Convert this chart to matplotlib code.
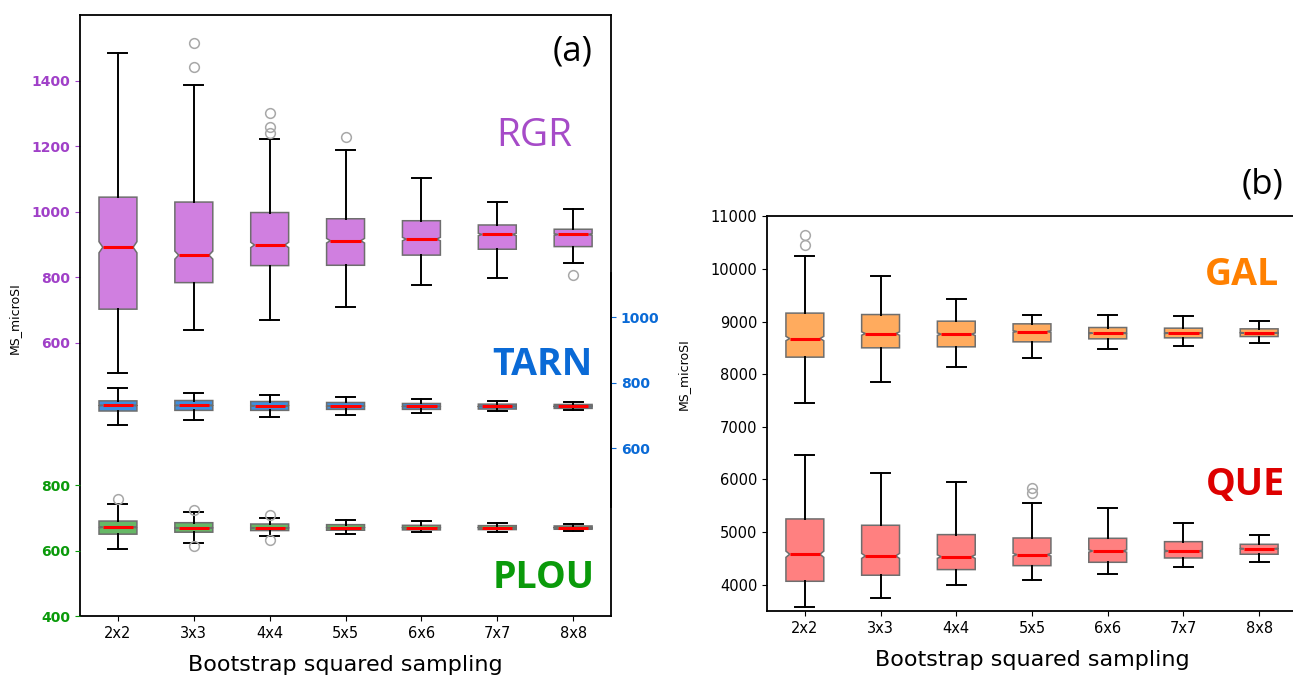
import numpy as np
import matplotlib.pyplot as plt
from matplotlib.path import Path

# bootstrap sizes on the x axis
labels = ['2x2', '3x3', '4x4', '5x5', '6x6', '7x7', '8x8']
n_boot = 1000

# panel (a) - RGR
rgr_lo = [508, 638, 670, 709, 777, 799, 844]
rgr_q1 = [703, 784, 836, 837, 868, 886, 894]
rgr_med = [892, 868, 899, 912, 917, 931, 931]
rgr_q3 = [1045, 1030, 998, 979, 973, 960, 947]
rgr_hi = [1485, 1388, 1222, 1189, 1103, 1030, 1009]
rgr_fl = [[], [1441, 1515], [1242, 1260, 1301], [1228], [], [], [808]]

# panel (a) - TARN
tarn_lo = [670, 688, 696, 701, 709, 713, 717]
tarn_q1 = [714, 716, 716, 719, 719, 720, 722]
tarn_med = [731, 731, 730, 729, 728, 728, 728]
tarn_q3 = [745, 746, 743, 740, 737, 735, 734]
tarn_hi = [785, 770, 762, 757, 750, 745, 741]
tarn_fl = [[], [], [], [], [], [], []]

# panel (a) - PLOU
plou_lo = [605, 624, 643, 649, 656, 657, 660]
plou_q1 = [650, 656, 661, 662, 663, 664, 665]
plou_med = [671, 669, 669, 670, 670, 670, 670]
plou_q3 = [690, 685, 681, 679, 677, 676, 675]
plou_hi = [741, 717, 700, 693, 689, 685, 681]
plou_fl = [[757], [614, 724], [633, 709], [], [], [], []]

# panel (b) - GAL
gal_lo = [7462, 7850, 8147, 8307, 8478, 8541, 8598]
gal_q1 = [8326, 8503, 8522, 8617, 8674, 8693, 8718]
gal_med = [8680, 8775, 8763, 8813, 8782, 8782, 8788]
gal_q3 = [9163, 9136, 9010, 8959, 8889, 8877, 8864]
gal_hi = [10258, 9878, 9429, 9125, 9130, 9111, 9010]
gal_fl = [[10462, 10652], [], [], [], [], [], []]

# panel (b) - QUE
que_lo = [3570, 3748, 3996, 4095, 4198, 4337, 4426]
que_q1 = [4065, 4180, 4287, 4362, 4426, 4508, 4579]
que_med = [4579, 4547, 4534, 4571, 4641, 4641, 4685]
que_q3 = [5250, 5130, 4952, 4888, 4882, 4818, 4768]
que_hi = [6467, 6119, 5947, 5560, 5453, 5174, 4952]
que_fl = [[], [], [], [5739, 5834], [], [], []]


def make_stats(lo, q1, med, q3, hi, fl):
    out = []
    for i in range(len(labels)):
        half = 1.57 * (q3[i] - q1[i]) / np.sqrt(n_boot)
        out.append(dict(whislo=lo[i], q1=q1[i], med=med[i], q3=q3[i], whishi=hi[i],
                        fliers=fl[i], cilo=med[i] - half, cihi=med[i] + half, label=labels[i]))
    return out


def draw_boxes(ax, stats, color):
    pos = np.arange(1, len(stats) + 1)
    res = ax.bxp(stats, positions=pos, widths=0.5, shownotches=True, patch_artist=True,
                 boxprops=dict(facecolor=color, edgecolor='#6e6e6e', linewidth=1.1),
                 medianprops=dict(color='#ff0000', linewidth=2.2),
                 whiskerprops=dict(color='black', linewidth=1.4),
                 capprops=dict(color='black', linewidth=1.4),
                 flierprops=dict(marker='o', markerfacecolor='none', markeredgecolor='#a8a8a8',
                                 markersize=7, markeredgewidth=1.1))
    # shallower notches, like the original figure
    for p, b, m in zip(pos, res['boxes'], res['medians']):
        path = b.get_path()
        v = path.vertices.copy()
        inner = np.isclose(np.abs(v[:, 0] - p), 0.125)
        v[inner, 0] = p + np.sign(v[inner, 0] - p) * 0.2
        b.set_path(Path(v, path.codes))
        m.set_xdata([p - 0.2, p + 0.2])
    return res


fig = plt.figure(figsize=(12.93, 6.81), dpi=100)

# ---------- panel (a) ----------
ax_r = fig.add_axes([0.0619, 0.0954, 0.4107, 0.8825])
ax_p = ax_r.twinx()
ax_t = ax_r.twinx()

draw_boxes(ax_r, make_stats(rgr_lo, rgr_q1, rgr_med, rgr_q3, rgr_hi, rgr_fl), '#d07fe0')
draw_boxes(ax_t, make_stats(tarn_lo, tarn_q1, tarn_med, tarn_q3, tarn_hi, tarn_fl), '#3f8fdf')
draw_boxes(ax_p, make_stats(plou_lo, plou_q1, plou_med, plou_q3, plou_hi, plou_fl), '#66b866')

ax_r.set_xlim(0.5, 7.5)
ax_r.set_xticks(range(1, 8))
ax_r.set_xticklabels(labels, fontsize=10.5)
ax_r.set_ylim(-234, 1601)
ax_p.set_ylim(400, 2235)
ax_t.set_ylim(88, 1923)

ax_r.set_yticks([600, 800, 1000, 1200, 1400])
ax_p.yaxis.tick_left()
ax_p.set_yticks([400, 600, 800])
ax_t.set_yticks([600, 800, 1000])

for a, c in [(ax_r, '#a040c8'), (ax_p, '#0a9a0a'), (ax_t, '#0a6ad6')]:
    a.tick_params(axis='y', colors=c, labelsize=10)
    for t in a.get_yticklabels():
        t.set_fontweight('bold')

for s in ax_p.spines.values():
    s.set_visible(False)
for s in ['top', 'left', 'bottom']:
    ax_t.spines[s].set_visible(False)
ax_t.spines['right'].set_bounds(420, 1135)
for s in ax_r.spines.values():
    s.set_linewidth(1.3)
ax_t.spines['right'].set_linewidth(1.3)

ax_r.set_ylabel('MS_microSI', fontsize=9)
ax_r.yaxis.set_label_coords(-0.112, 0.496)
ax_r.set_xlabel('Bootstrap squared sampling', fontsize=16, labelpad=10)

ax_r.text(0.928, 0.939, '(a)', transform=ax_r.transAxes, ha='center', va='center',
          fontsize=25, family='Open Sans')
ax_r.text(0.855, 0.799, 'RGR', transform=ax_r.transAxes, ha='center', va='center',
          fontsize=28, family='Open Sans', color='#a64bc8')
ax_r.text(0.870, 0.418, 'TARN', transform=ax_r.transAxes, ha='center', va='center',
          fontsize=27, family='Open Sans', fontweight='bold', color='#0a6ad6')
ax_r.text(0.874, 0.064, 'PLOU', transform=ax_r.transAxes, ha='center', va='center',
          fontsize=27, family='Open Sans', fontweight='bold', color='#0a9a0a')

# ---------- panel (b) ----------
ax_b = fig.add_axes([0.5932, 0.1028, 0.4099, 0.5793])
draw_boxes(ax_b, make_stats(gal_lo, gal_q1, gal_med, gal_q3, gal_hi, gal_fl), '#ffab5e')
draw_boxes(ax_b, make_stats(que_lo, que_q1, que_med, que_q3, que_hi, que_fl), '#ff8080')
ax_b.set_xlim(0.5, 7.5)
ax_b.set_xticks(range(1, 8))
ax_b.set_xticklabels(labels, fontsize=10.5)
ax_b.set_ylim(3500, 11000)
ax_b.set_yticks(range(4000, 11001, 1000))
ax_b.tick_params(axis='y', labelsize=10.5)
for s in ax_b.spines.values():
    s.set_linewidth(1.3)
ax_b.set_ylabel('MS_microSI', fontsize=9)
ax_b.yaxis.set_label_coords(-0.145, 0.60)
ax_b.set_xlabel('Bootstrap squared sampling', fontsize=16, labelpad=10)

ax_b.text(0.934, 1.08, '(b)', transform=ax_b.transAxes, ha='center', va='center',
          fontsize=25, family='Open Sans')
ax_b.text(0.896, 0.852, 'GAL', transform=ax_b.transAxes, ha='center', va='center',
          fontsize=27, family='Open Sans', fontweight='bold', color='#ff8000')
ax_b.text(0.902, 0.319, 'QUE', transform=ax_b.transAxes, ha='center', va='center',
          fontsize=27, family='Open Sans', fontweight='bold', color='#dd0000')

fig.savefig('out.png', dpi=100)
